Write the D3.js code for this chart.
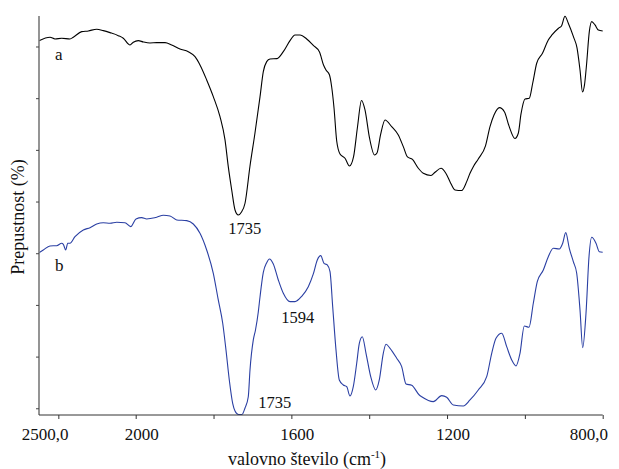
<!DOCTYPE html>
<html><head><meta charset="utf-8">
<script src="https://cdn.jsdelivr.net/npm/d3@7"></script>
<style>body{margin:0;background:#fff}svg{display:block}text{font-family:"Liberation Serif","Times New Roman",serif;fill:#111}</style>
</head><body><svg id="c" width="619" height="469"></svg>
<script>
// wavenumber (cm-1) and relative transmittance values
const waveA = [2500,2443.1,2417.3,2382.6,2339.7,2322.6,2279.2,2245.1,2201.6,2167.5,2132.9,2089.9,2064.1,2029.4,2012.4,1993.3,1980.5,1963.3,1946.0,1924.7,1907.5,1886.2,1864.8,1847.6,1834.8,1817.6,1800.6,1783.4,1770.5,1762.1,1753.3,1744.8,1736.4,1728.1,1719.1,1706.3,1693.5,1680.6,1672.1,1663.4,1654.9,1636.9,1620.7,1603.5,1590.7,1577.8,1560.6,1543.6,1527.7,1517.4,1511.0,1502.0,1496.4,1490.4,1483.5,1475.0,1462.2,1450.6,1440.3,1430.1,1419.8,1410.8,1399.2,1386.4,1380.0,1370.9,1359.4,1342.2,1325.2,1312.4,1301.6,1288.7,1273.8,1261.0,1241.2,1230.9,1215.5,1202.7,1192.4,1179.5,1162.3,1149.5,1141.0,1132.5,1119.7,1101.2,1089.6,1079.3,1065.2,1052.3,1040.8,1025.4,1016.9,1009.9,999.6,988.6,979.9,969.6,954.7,939.8,930.3,913.6,905.9,896.9,888.4,875.0,866.0,858.3,851.9,846.8,841.6,834.4,828.3,819.8,811.3,800];
const transA = [71.13,71.79,71.46,71.60,71.46,71.79,72.87,73.01,73.34,73.07,72.68,72.10,71.60,70.30,70.82,71.13,70.88,70.69,70.74,70.74,70.30,69.52,69.00,68.03,66.43,63.53,60.30,56.42,51.92,46.75,42.24,38.37,37.40,37.98,39.67,46.88,53.27,60.24,65.13,67.07,67.59,67.65,69.00,71.13,72.23,72.23,71.46,70.20,68.94,66.43,65.46,64.49,62.17,58.11,51.72,49.21,48.38,46.88,48.63,54.43,59.56,57.72,52.30,49.01,49.40,52.88,55.79,54.49,52.88,50.62,48.63,48.14,46.44,45.47,45.05,45.67,46.44,45.43,43.85,42.24,42.14,43.85,45.47,46.75,48.24,50.76,54.49,56.75,58.17,57.33,54.63,52.21,53.21,56.95,59.85,59.99,62.89,66.76,68.69,71.27,72.23,73.53,73.98,75.85,74.50,71.85,69.72,65.46,61.20,62.56,66.43,72.87,74.81,74.17,73.20,73.01];
const waveB = [2500,2477.8,2443.1,2408.5,2382.6,2374.3,2361.9,2351.6,2339.7,2313.8,2270.9,2236.3,2201.6,2167.5,2132.9,2098.2,2055.3,2025.8,1999.2,1984.6,1971.7,1958.9,1946.0,1929.1,1911.9,1894.6,1868.9,1852.0,1834.8,1817.6,1800.6,1787.8,1776.4,1768.0,1759.5,1750.8,1744.8,1735.8,1726.9,1719.1,1710.7,1706.3,1697.8,1692.2,1685.0,1680.6,1672.1,1663.4,1656.2,1646.4,1633.6,1620.7,1603.5,1590.7,1573.4,1556.5,1543.6,1533.4,1524.6,1516.1,1507.7,1500.7,1493.8,1485.3,1476.8,1466.6,1457.8,1449.3,1440.9,1432.1,1425.4,1417.7,1408.2,1396.1,1383.3,1374.1,1363.8,1356.8,1346.5,1329.3,1316.5,1305.4,1290.8,1271.3,1265.1,1235.3,1213.7,1200.9,1183.9,1158.2,1141.0,1119.7,1098.1,1085.2,1074.2,1059.5,1046.7,1033.8,1022.8,1012.5,1001.5,989.4,978.3,968.1,952.6,939.8,926.9,911.5,902.8,895.0,885.8,875.5,866.8,858.3,851.4,842.9,835.2,828.3,817.2,808.7,800];
const transB = [30.11,30.63,31.41,31.46,31.93,31.73,30.63,31.93,31.93,33.20,34.50,34.95,35.66,35.91,35.80,35.99,35.91,35.14,36.63,36.88,36.63,36.77,36.96,37.35,37.21,36.44,36.30,35.66,33.86,30.63,26.12,20.96,16.45,11.28,5.48,0.97,-0.52,-1.20,-1.20,0.06,2.24,7.41,13.22,15.15,18.63,21.54,26.28,28.17,28.89,27.92,24.83,22.25,20.63,20.63,21.67,23.53,25.99,28.70,29.53,28.06,27.73,26.43,19.66,11.28,5.48,4.51,4.18,2.38,4.18,8.71,12.58,13.85,10.64,6.11,3.54,5.48,10.64,12.38,11.61,9.68,8.05,4.70,4.45,2.57,2.24,1.28,2.44,2.13,0.64,0.45,1.61,3.54,6.11,10.64,13.55,14.51,11.92,9.35,8.19,10.64,15.93,15.67,20.32,24.50,26.76,29.33,30.96,30.82,31.93,33.98,30.96,28.37,26.12,19.02,11.73,18.38,29.33,33.09,31.93,30.30,30.19];
const xTickValues = [2400,2000,1800,1600,1400,1200,1000,800];
const xTickLabels = [[2500,"2500,0"],[2000,"2000"],[1600,"1600"],[1200,"1200"],[800,"800,0"]];
const yTickValues = [0,10,20,30,40,50,60,70];
const peakLabels = [["1735",1735,"a"],["1735",1735,"b"],["1594",1594,"b"]];

const svg = d3.select("#c");
// FTIR-style split axis: 2500-2000 compressed
const x = d3.scaleLinear().domain([2500,2000,800]).range([39,135.7,602.7]);
const y = d3.scaleLinear().domain([-1.3,75.9]).range([415,16]);

const line = d3.line().x(d=>x(d[0])).y(d=>y(d[1])).curve(d3.curveMonotoneX);
const dataA = waveA.map((w,i)=>[w,transA[i]]);
const dataB = waveB.map((w,i)=>[w,transB[i]]);

svg.append("path").datum(dataA).attr("d",line).attr("fill","none").attr("stroke","#000").attr("stroke-width",1.1);
svg.append("path").datum(dataB).attr("d",line).attr("fill","none").attr("stroke","#2a3fa3").attr("stroke-width",1.1);

// y axis
const yAxis = svg.append("g").attr("transform","translate(39,0)")
  .call(d3.axisLeft(y).tickValues(yTickValues).tickSize(3).tickFormat(""));
yAxis.select(".domain").attr("stroke","#7a7a7a").attr("stroke-width",1.6).attr("d","M0,16V415");
yAxis.selectAll(".tick line").attr("stroke","#444");

// x axis
const xAxis = svg.append("g").attr("transform","translate(0,415)")
  .call(d3.axisBottom(x).tickValues(xTickValues).tickSize(4).tickFormat(""));
xAxis.select(".domain").attr("stroke","#333").attr("d","M39,0H602.7");
xAxis.selectAll(".tick line").attr("stroke","#333");

svg.selectAll(".xlab").data(xTickLabels).enter().append("text")
  .attr("x",d=> d[0]===800 ? 608 : x(d[0])+6)
  .attr("y",440).attr("text-anchor",d=> d[0]===800 ? "end":"middle")
  .attr("font-size",17).text(d=>d[1]);

// axis titles
const xt = svg.append("text").attr("x",307).attr("y",465).attr("text-anchor","middle").attr("font-size",18);
xt.append("tspan").text("valovno število (cm");
xt.append("tspan").attr("font-size",11).attr("dy",-7).text("-1");
xt.append("tspan").attr("dy",7).text(")");
svg.append("text").attr("transform","translate(24,217) rotate(-90)").attr("text-anchor","middle").attr("font-size",18).text("Prepustnost (%)");

// series labels
svg.append("text").attr("x",55).attr("y",60).attr("font-size",17).text("a");
svg.append("text").attr("x",55).attr("y",270.5).attr("font-size",17).text("b");

// peak labels
svg.append("text").attr("x",x(1735)+6).attr("y",233.5).attr("text-anchor","middle").attr("font-size",16.5).text(peakLabels[0][0]);
svg.append("text").attr("x",x(1735)+36).attr("y",408.3).attr("text-anchor","middle").attr("font-size",16.5).text(peakLabels[1][0]);
svg.append("text").attr("x",x(1594)+4).attr("y",323.3).attr("text-anchor","middle").attr("font-size",16.5).text(peakLabels[2][0]);
</script></body></html>
